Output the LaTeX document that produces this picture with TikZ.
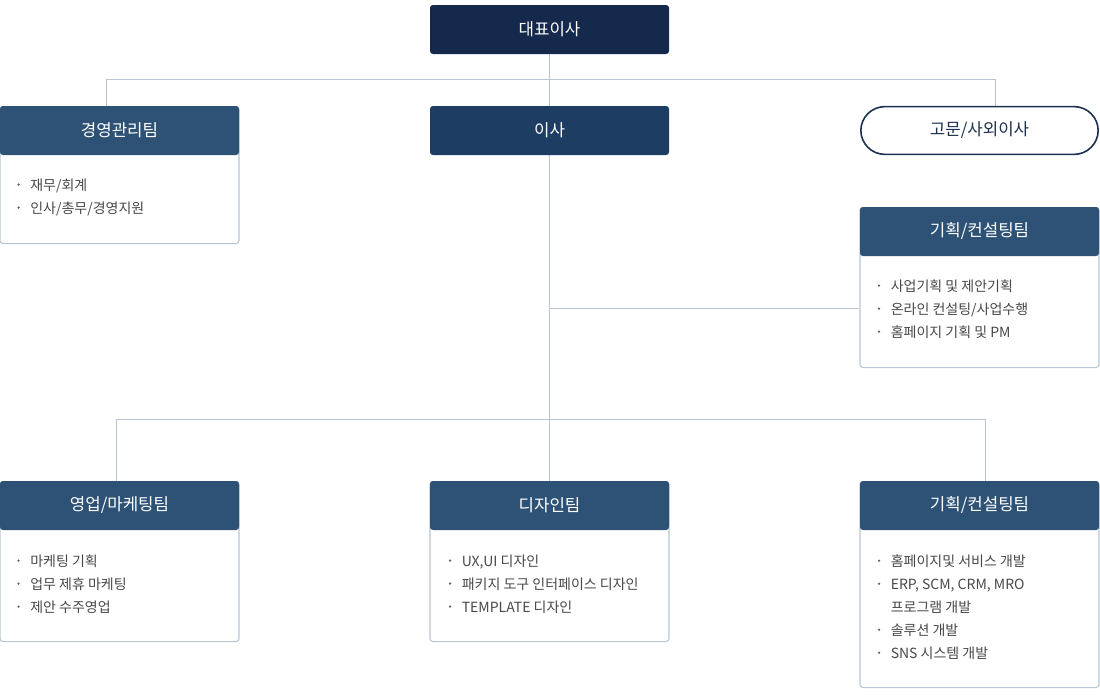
\documentclass[tikz,border=0pt]{standalone}
\usepackage{fontspec}
\setmainfont{Noto Sans CJK KR}
\usetikzlibrary{backgrounds}
\definecolor{ceoC}{HTML}{14294B}
\definecolor{dirC}{HTML}{1E3D63}
\definecolor{hdrC}{HTML}{2E5276}
\definecolor{lineC}{HTML}{B8C6D3}
\definecolor{txtC}{HTML}{484848}
\definecolor{pillC}{HTML}{1C3150}
\newcommand{\bul}{\makebox[9.75pt][l]{\raisebox{3.4pt}{\tikz\fill[txtC!85] (0,0) circle (0.95pt);}}}
\begin{document}
\begin{tikzpicture}[x=0.75pt,y=-0.75pt,
  hdr/.style={fill=hdrC,rounded corners=2.2pt,minimum width=179.25pt,minimum height=36.75pt,inner sep=0pt,text=white,font=\fontsize{12.6}{14}\selectfont},
  pill/.style={draw=pillC,line width=1.2pt,fill=white,rounded corners=18pt,minimum width=178pt,minimum height=35.8pt,inner sep=0pt,text=pillC,font=\fontsize{12.6}{14}\selectfont},
  bodybox/.style={draw=lineC,line width=0.8pt,fill=white,rounded corners=2.2pt,minimum width=179.25pt,inner sep=0pt,anchor=north},
  items/.style={anchor=north west,inner sep=0pt,text=txtC,align=left,font=\fontsize{10.5}{17.25}\selectfont},
  conn/.style={draw=lineC,line width=0.8pt}]
\useasboundingbox (0,0) rectangle (1100,700);

% CEO and director
\node[hdr,fill=ceoC] (ceo) at (549.5,29.5) {대표이사};
\node[hdr,fill=dirC] (dir) at (549.5,130.5) {이사};
\node[pill] (adv) at (979.5,130.5) {고문/사외이사};

% management team
\node[bodybox,minimum height=102.75pt] (b1) at (119.5,106) {};
\node[hdr] (h1) at (119.5,130.5) {경영관리팀};
\node[items] (i1) at (17,178.5) {\bul 재무/회계\\ \bul 인사/총무/경영지원};

% planning/consulting upper
\node[bodybox,minimum height=120pt] (b2) at (979.5,207) {};
\node[hdr] (h2) at (979.5,231.5) {기획/컨설팅팀};
\node[items] (i2) at (877.5,279.5) {\bul 사업기획 및 제안기획\\ \bul 온라인 컨설팅/사업수행\\ \bul 홈페이지 기획 및 PM};

% lower row
\node[bodybox,minimum height=120pt] (b3) at (119.5,481) {};
\node[hdr] (h3) at (119.5,505.5) {영업/마케팅팀};
\node[items] (i3) at (17,554.5) {\bul 마케팅 기획\\ \bul 업무 제휴 마케팅\\ \bul 제안 수주영업};

\node[bodybox,minimum height=120pt] (b4) at (549.5,481) {};
\node[hdr] (h4) at (549.5,505.5) {디자인팀};
\node[items] (i4) at (448.5,554.5) {\bul UX,UI 디자인\\ \bul 패키지 도구 인터페이스 디자인\\ \bul TEMPLATE 디자인};

\node[bodybox,minimum height=154.5pt] (b5) at (979.5,481) {};
\node[hdr] (h5) at (979.5,505.5) {기획/컨설팅팀};
\node[items] (i5) at (877.5,554.5) {\bul 홈페이지및 서비스 개발\\ \bul ERP, SCM, CRM, MRO\\ \hspace{9.75pt}프로그램 개발\\ \bul 솔루션 개발\\ \bul SNS 시스템 개발};

% connectors
\coordinate (t1) at (106.5,79.5);
\coordinate (t2) at (995.5,79.5);
\coordinate (m1) at (549.5,308.5);
\coordinate (d1) at (549.5,419.5);
\coordinate (l1) at (116.5,419.5);
\coordinate (r1) at (985.5,419.5);
\begin{scope}[on background layer]
\draw[conn] (ceo.south) -- (dir.north);
\draw[conn] (t1 |- b1.north) -- (t1) -- (t2) -- (t2 |- adv.north);
\draw[conn] (dir.south) -- (d1);
\draw[conn] (m1) -- (m1 -| b2.west);
\draw[conn] (l1 |- h3.north) -- (l1) -- (r1) -- (r1 |- h5.north);
\draw[conn] (d1) -- (h4.north);
\end{scope}
\end{tikzpicture}
\end{document}
